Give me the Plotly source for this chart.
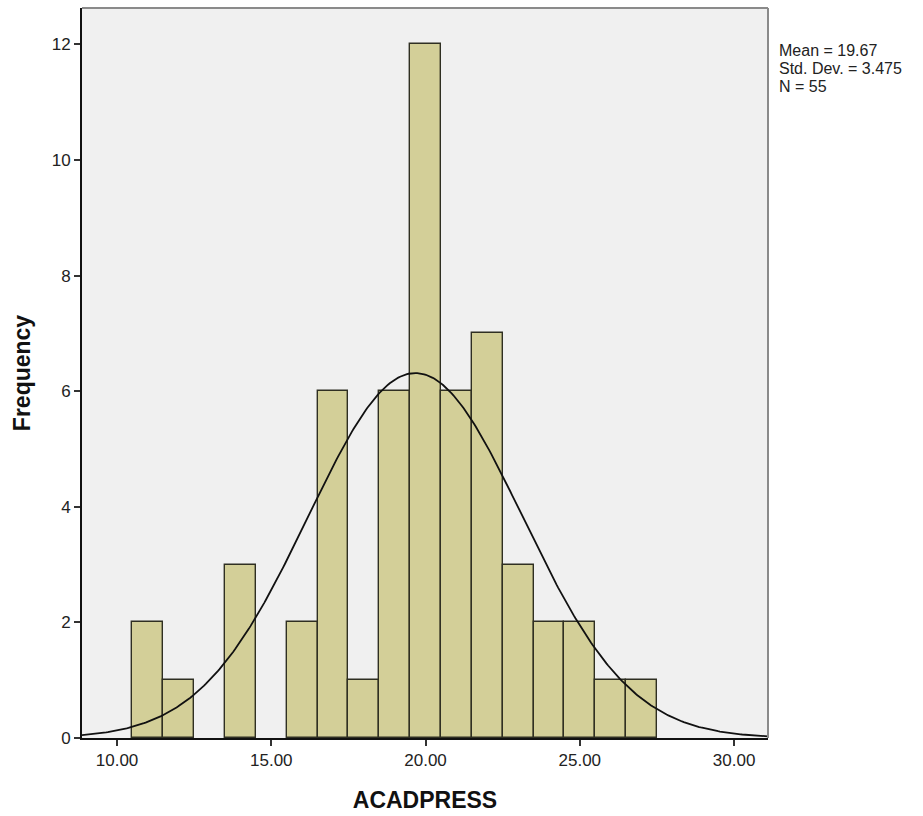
import numpy as np
import plotly.graph_objects as go

# Histogram of ACADPRESS: bins of width 1 centred on whole scores
bin_centers = [11, 12, 13, 14, 15, 16, 17, 18, 19, 20, 21, 22, 23, 24, 25, 26, 27]
counts = [2, 1, 0, 3, 0, 2, 6, 1, 6, 12, 6, 7, 3, 2, 2, 1, 1]
bin_width = 1.0

# Summary statistics shown beside the plot
mean_val = 19.67
std_val = 3.475
n_val = 55

x_tick_vals = [10, 15, 20, 25, 30]
x_tick_text = ["10.00", "15.00", "20.00", "25.00", "30.00"]
y_tick_vals = [0, 2, 4, 6, 8, 10, 12]

x_range = [8.865, 31.1]
y_range = [0, 12.63]

FONT = "Liberation Sans, Arial, sans-serif"

# Empty bins are not drawn (no outline on the baseline)
bar_x = [c for c, n in zip(bin_centers, counts) if n > 0]
bar_y = [n for n in counts if n > 0]

fig = go.Figure()

fig.add_trace(go.Bar(
    x=bar_x,
    y=bar_y,
    width=bin_width,
    marker=dict(color="#d3cf98", line=dict(color="#2f2f22", width=1.4)),
    hoverinfo="x+y",
    showlegend=False,
))

# Normal curve scaled to counts per bin
xc = np.linspace(x_range[0], x_range[1], 400)
yc = n_val * bin_width / (std_val * np.sqrt(2 * np.pi)) * np.exp(-0.5 * ((xc - mean_val) / std_val) ** 2)
fig.add_trace(go.Scatter(
    x=xc, y=yc, mode="lines",
    line=dict(color="#111111", width=1.8),
    hoverinfo="skip", showlegend=False,
))

# Grey frame on the top and right sides of the plot area
fig.add_shape(type="line", xref="paper", yref="paper", x0=0, x1=1, y0=1, y1=1,
              line=dict(color="#8a8a8a", width=2))
fig.add_shape(type="line", xref="paper", yref="paper", x0=1, x1=1, y0=0, y1=1,
              line=dict(color="#8a8a8a", width=2))

# Statistics block, one line per annotation for tight line spacing
stat_lines = [f"Mean = {mean_val:.2f}", f"Std. Dev. = {std_val:.3f}", f"N = {n_val}"]
for i, line in enumerate(stat_lines):
    fig.add_annotation(
        xref="paper", yref="paper", x=1.0, y=1.0, xshift=9, yshift=-(42 + 18 * i),
        xanchor="left", yanchor="middle", align="left", showarrow=False,
        text=line,
        font=dict(family=FONT, size=16, color="#222222"),
    )

fig.update_layout(
    width=923, height=816,
    margin=dict(l=82, r=155, t=8, b=78),
    paper_bgcolor="white",
    plot_bgcolor="#f0f0f0",
    bargap=0,
    font=dict(family=FONT, color="#222222"),
    xaxis=dict(
        range=x_range, tickvals=x_tick_vals, ticktext=x_tick_text,
        showgrid=False, zeroline=False,
        showline=True, linecolor="#111111", linewidth=2,
        ticks="outside", ticklen=6, tickwidth=2, tickcolor="#333333",
        tickfont=dict(family=FONT, size=17, color="#222222"),
        title=dict(text="<b>ACADPRESS</b>", font=dict(family=FONT, size=23, color="#111111"), standoff=22),
    ),
    yaxis=dict(
        range=y_range, tickvals=y_tick_vals,
        showgrid=False, zeroline=False,
        showline=True, linecolor="#111111", linewidth=2,
        ticks="outside", ticklen=6, tickwidth=2, tickcolor="#333333",
        tickfont=dict(family=FONT, size=17, color="#222222"),
        title=dict(text="<b>Frequency</b>", font=dict(family=FONT, size=23, color="#111111"), standoff=15),
    ),
)

fig.write_html("out.html")
